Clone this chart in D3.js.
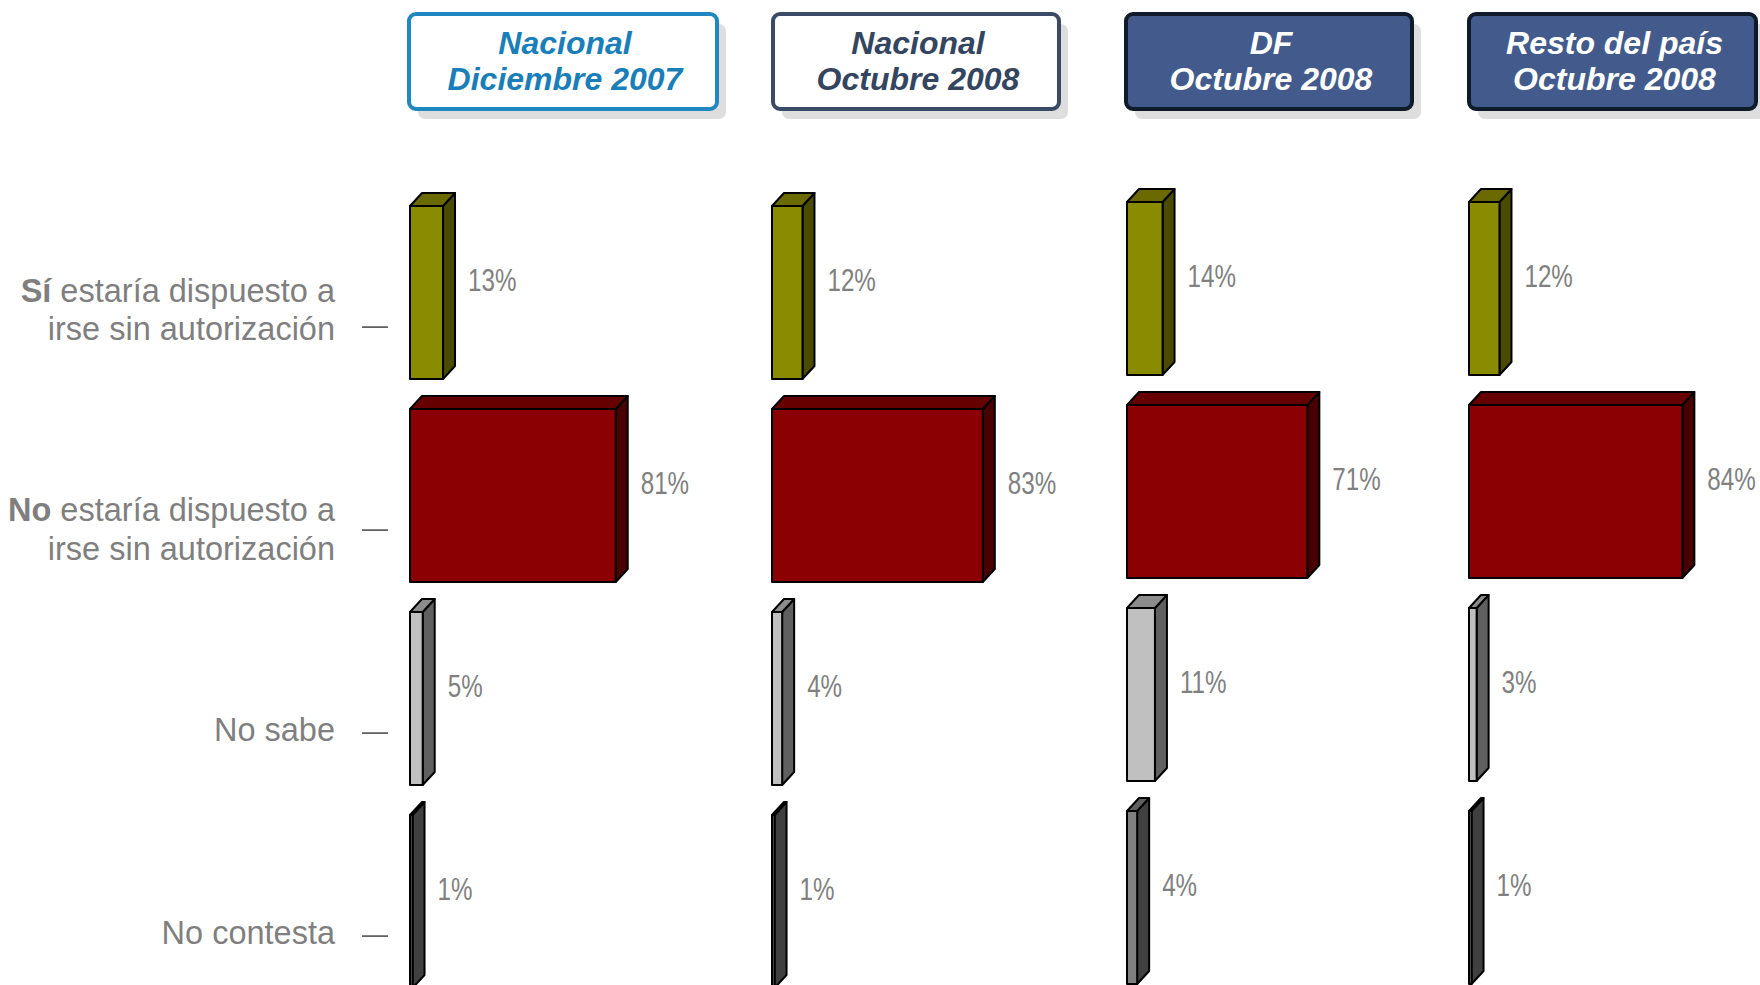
<!DOCTYPE html>
<html>
<head>
<meta charset="utf-8">
<script src="https://cdn.jsdelivr.net/npm/d3@7"></script>
<style>
  html, body { margin: 0; padding: 0; background: #ffffff; }
  svg { display: block; }
</style>
</head>
<body>
<svg id="chart" width="1760" height="985"></svg>
<script>
// ---------------- DATA ----------------
const panels = ["Nacional Diciembre 2007", "Nacional Octubre 2008", "DF Octubre 2008", "Resto del país Octubre 2008"];
const panelLine1 = ["Nacional", "Nacional", "DF", "Resto del país"];
const panelLine2 = ["Diciembre 2007", "Octubre 2008", "Octubre 2008", "Octubre 2008"];

const categories = ["Sí", "No", "No sabe", "No contesta"];
const categoryBold = ["Sí", "No", "", ""];
const categoryLine1 = [" estaría dispuesto a", " estaría dispuesto a", "", ""];
const categoryLine2 = ["irse sin autorización", "irse sin autorización", "No sabe", "No contesta"];

const siValues = [13, 12, 14, 12];
const noValues = [81, 83, 71, 84];
const noSabeValues = [5, 4, 11, 3];
const noContestaValues = [1, 1, 4, 1];

// ---------------- STYLE / LAYOUT ----------------
const seriesValues = [siValues, noValues, noSabeValues, noContestaValues];
const faceColors = [
  { front: "#8b8b00", top: "#6a6a00", side: "#4b4b00" },
  { front: "#8b0000", top: "#660000", side: "#480000" },
  { front: "#c0c0c0", top: "#8c8c8c", side: "#606060" },
  { front: "#808080", top: "#606060", side: "#404040" }
];
const headerStyles = [
  { fill: "#ffffff", stroke: "#1f88c1", text: "#1a7eb9" },
  { fill: "#ffffff", stroke: "#3b4b66", text: "#34455f" },
  { fill: "#425b8c", stroke: "#0f1a2b", text: "#ffffff" },
  { fill: "#425b8c", stroke: "#0f1a2b", text: "#ffffff" }
];

const svg = d3.select("#chart");
const W = 1760, H = 985;
svg.append("rect").attr("width", W).attr("height", H).attr("fill", "#fff");

const panelX = d3.scaleOrdinal().domain(panels).range([410, 772, 1127, 1469]);
const panelTop = d3.scaleOrdinal().domain(panels).range([206, 206, 202, 202]);
const headerLeft = d3.scaleOrdinal().domain(panels).range([409, 773, 1126, 1469]);
const headerWidth = d3.scaleOrdinal().domain(panels).range([308, 286, 286, 287]);

const x = d3.scaleLinear().domain([0, 100]).range([0, 254]);
const dx = 12, dy = 13;

// ---------------- HEADERS ----------------
panels.forEach((p, i) => {
  const g = svg.append("g");
  const hx = headerLeft(p), hy = 14, hw = headerWidth(p), hh = 95;
  g.append("rect")
    .attr("x", hx + 9).attr("y", hy + 10).attr("width", hw).attr("height", hh)
    .attr("rx", 7).attr("fill", "#dedede");
  g.append("rect")
    .attr("x", hx).attr("y", hy).attr("width", hw).attr("height", hh)
    .attr("rx", 7).attr("fill", headerStyles[i].fill)
    .attr("stroke", headerStyles[i].stroke).attr("stroke-width", 4);
  const cx = hx + hw / 2 + 2;
  const t = g.append("text")
    .attr("text-anchor", "middle")
    .attr("font-family", "'Liberation Sans', Arial, sans-serif")
    .attr("font-weight", "bold").attr("font-style", "italic")
    .attr("font-size", 32)
    .attr("fill", headerStyles[i].text);
  t.append("tspan").attr("x", cx).attr("y", 54).text(panelLine1[i]);
  t.append("tspan").attr("x", cx).attr("y", 90).text(panelLine2[i]);
});

// ---------------- AXIS (category ticks) ----------------
const yAxisScale = d3.scalePoint().domain(categories).range([326.6, 935.6]);
const axis = d3.axisLeft(yAxisScale).tickSize(26).tickFormat("");
const axG = svg.append("g").attr("transform", "translate(388,0)").call(axis);
axG.select(".domain").remove();
axG.selectAll(".tick line").attr("stroke", "#505050").attr("stroke-width", 1.6);

// category labels
const labelFont = "'Liberation Sans', Arial, sans-serif";
const labelYOffsets = [[-36, 2], [-20, 19], [null, -3], [null, -3]];
categories.forEach((c, i) => {
  const yc = yAxisScale(c);
  const g = svg.append("g")
    .attr("font-family", labelFont).attr("font-size", 32.5)
    .attr("fill", "#7f7f7f").attr("text-anchor", "end");
  if (labelYOffsets[i][0] !== null) {
    const t1 = g.append("text").attr("x", 335).attr("y", yc + labelYOffsets[i][0])
      .attr("dominant-baseline", "central");
    t1.append("tspan").attr("font-weight", "bold").text(categoryBold[i]);
    t1.append("tspan").text(categoryLine1[i]);
  }
  g.append("text").attr("x", 335).attr("y", yc + labelYOffsets[i][1])
    .attr("dominant-baseline", "central").text(categoryLine2[i]);
});

// ---------------- BARS ----------------
panels.forEach((p, pi) => {
  const y = d3.scaleBand().domain(categories)
    .range([panelTop(p), panelTop(p) + 782])
    .paddingInner(30 / 203).paddingOuter(0);
  const x0 = panelX(p);
  const g = svg.append("g");
  categories.forEach((c, ci) => {
    const v = seriesValues[ci][pi];
    const w = x(v);
    const yt = y(c), bh = y.bandwidth();
    const col = faceColors[ci];
    const bg = g.append("g")
      .attr("stroke", "#000").attr("stroke-width", 2).attr("stroke-linejoin", "round");
    // side
    bg.append("polygon")
      .attr("points", [[x0 + w, yt], [x0 + w + dx, yt - dy], [x0 + w + dx, yt + bh - dy], [x0 + w, yt + bh]].join(" "))
      .attr("fill", col.side);
    // top
    bg.append("polygon")
      .attr("points", [[x0, yt], [x0 + dx, yt - dy], [x0 + w + dx, yt - dy], [x0 + w, yt]].join(" "))
      .attr("fill", col.top);
    // front
    bg.append("rect")
      .attr("x", x0).attr("y", yt).attr("width", w).attr("height", bh)
      .attr("fill", col.front);
    // value label (slightly condensed)
    g.append("g")
      .attr("transform", `translate(${x0 + w + dx + 13},${yt + bh / 2 - 12}) scale(0.78,1)`)
      .append("text")
      .attr("dominant-baseline", "central")
      .attr("font-family", labelFont).attr("font-size", 31)
      .attr("fill", "#808080")
      .text(v + "%");
  });
});
</script>
</body>
</html>
